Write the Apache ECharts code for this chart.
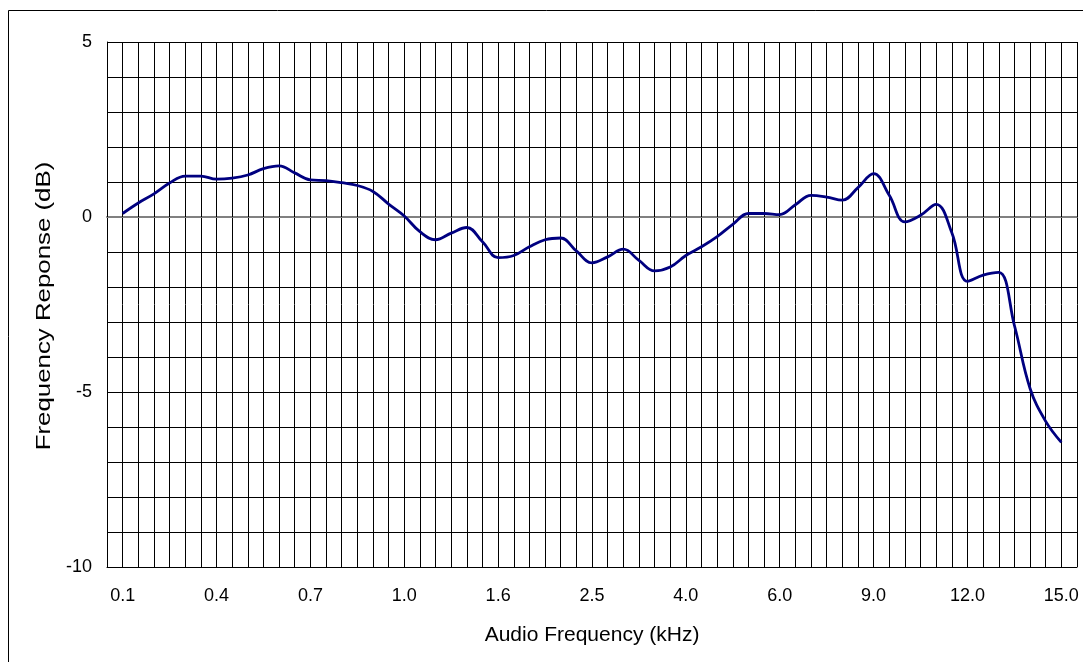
<!DOCTYPE html>
<html>
<head>
<meta charset="utf-8">
<script src="https://cdn.jsdelivr.net/npm/echarts@6/dist/echarts.min.js"></script>
<style>
html,body{margin:0;padding:0;background:#fff;}
#chart{width:1083px;height:662px;}
</style>
</head>
<body>
<div id="chart"></div>
<script>
// Tick labels shown on the frequency axis (kHz), one every 6 grid steps
const tickLabels = ['0.1','0.4','0.7','1.0','1.6','2.5','4.0','6.0','9.0','12.0','15.0'];
const stepsPerLabel = 6;
// Measured response (dB), one value per grid step from 0.1 kHz to 15.0 kHz
const responseDb = [
  0.1, 0.4, 0.66, 0.97, 1.17, 1.17, 1.08, 1.11, 1.2, 1.38,
  1.46, 1.26, 1.06, 1.04, 0.98, 0.9, 0.73, 0.37, 0.03, -0.42,
  -0.65, -0.46, -0.3, -0.71, -1.16, -1.1, -0.85, -0.65, -0.6, -0.97,
  -1.31, -1.14, -0.92, -1.24, -1.54, -1.43, -1.1, -0.85, -0.56, -0.21,
  0.1, 0.1, 0.07, 0.35, 0.62, 0.57, 0.48, 0.84, 1.24, 0.62,
  -0.14, 0.05, 0.36, -0.45, -1.84, -1.66, -1.58, -3.1, -4.9, -5.84,
  -6.44
];
const yTickLabels = [5, 0, -5, -10];
const xTitle = 'Audio Frequency (kHz)';
const yTitle = 'Frequency Reponse (dB)';

// Category slots: one empty slot before the first and after the last measurement
const nSlots = responseDb.length + 2;
const categories = [];
for (let i = 0; i < nSlots; i++) {
  const k = i - 1;
  categories.push(k >= 0 && k % stepsPerLabel === 0 && tickLabels[k / stepsPerLabel] !== undefined
    ? tickLabels[k / stepsPerLabel] : '');
}
const seriesData = [null].concat(responseDb).concat([null]);

const chart = echarts.init(document.getElementById('chart'), null, {renderer: 'canvas'});
const font = 'Liberation Sans, Arial, sans-serif';
chart.setOption({
  animation: false,
  backgroundColor: '#fff',
  grid: {left: 107, top: 42, width: 970, height: 525, containLabel: false},
  graphic: [{
    type: 'rect',
    shape: {x: 8.5, y: 10.5, width: 1200, height: 1000},
    style: {fill: 'none', stroke: '#000', lineWidth: 1},
    silent: true, z: -1
  }, {
    type: 'text',
    x: 44, y: 306,
    rotation: Math.PI / 2,
    scaleX: 1.23,
    style: {
      text: yTitle, fontFamily: font, fontSize: 21, fill: '#000',
      align: 'center', verticalAlign: 'middle',
      textAlign: 'center', textVerticalAlign: 'middle'
    },
    silent: true
  }],
  xAxis: [{
    type: 'category',
    data: categories,
    boundaryGap: false,
    name: xTitle,
    nameLocation: 'middle',
    nameGap: 58,
    nameTextStyle: {fontFamily: font, fontSize: 21, color: '#000'},
    axisLine: {onZero: false, lineStyle: {color: '#000', width: 1}},
    axisTick: {show: false},
    axisLabel: {
      interval: function (idx, val) { return val !== ''; },
      fontFamily: font, fontSize: 18, color: '#000', margin: 20
    },
    splitLine: {show: true, interval: 0, lineStyle: {color: '#000', width: 1}}
  }, {
    type: 'category',
    data: categories,
    boundaryGap: false,
    position: 'bottom',
    axisLine: {onZero: true, lineStyle: {color: '#808080', width: 2}},
    axisTick: {show: true, interval: 0, length: 3, inside: true, lineStyle: {color: '#000', width: 1}},
    axisLabel: {show: false},
    splitLine: {show: false}
  }],
  yAxis: {
    type: 'value',
    min: -10,
    max: 5,
    interval: 1,
    axisLine: {show: true, lineStyle: {color: '#000', width: 1}},
    axisTick: {show: false},
    axisLabel: {
      formatter: function (v) { return yTickLabels.indexOf(v) >= 0 ? String(v) : ''; },
      fontFamily: font, fontSize: 18, color: '#000', margin: 15
    },
    splitLine: {show: true, lineStyle: {color: '#000', width: 1}}
  },
  series: [{
    type: 'line',
    xAxisIndex: 0,
    data: seriesData,
    smooth: 0.4,
    symbol: 'none',
    lineStyle: {color: '#000080', width: 2.8},
    z: 5
  }]
});
</script>
</body>
</html>
